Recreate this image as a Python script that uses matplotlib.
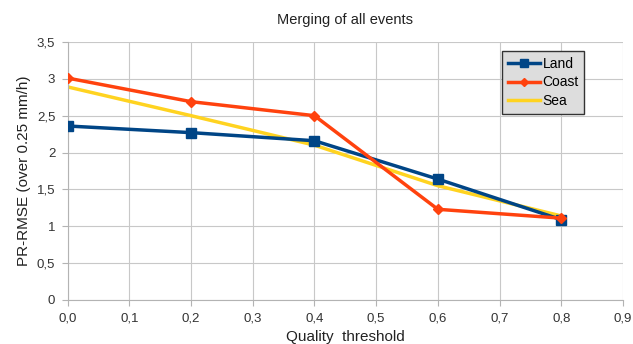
import matplotlib
matplotlib.use('Agg')
import matplotlib.pyplot as plt
from matplotlib.ticker import FuncFormatter, MultipleLocator

thresholds = [0.0, 0.2, 0.4, 0.6, 0.8]
land = [2.36, 2.27, 2.16, 1.64, 1.09]
coast = [3.01, 2.69, 2.50, 1.23, 1.11]
sea = [2.89, 2.50, 2.10, 1.55, 1.14]

plt.rcParams['font.family'] = ['Liberation Sans', 'DejaVu Sans']

fig = plt.figure(figsize=(6.33, 3.44), dpi=100)
ax = fig.add_axes([0.107, 0.128, 0.877, 0.75])

ax.plot(thresholds, land, color='#004586', lw=2.5, marker='s', ms=7, label='Land', zorder=3)
ax.plot(thresholds, coast, color='#ff420e', lw=2.5, marker='D', ms=5, label='Coast', zorder=3)
ax.plot(thresholds, sea, color='#ffd320', lw=2.5, label='Sea', zorder=2)

ax.set_xlim(0, 0.9)
ax.set_ylim(0, 3.5)
ax.xaxis.set_major_locator(MultipleLocator(0.1))
ax.yaxis.set_major_locator(MultipleLocator(0.5))
ax.xaxis.set_major_formatter(FuncFormatter(lambda v, p: f'{v:.1f}'.replace('.', ',')))
ax.yaxis.set_major_formatter(FuncFormatter(lambda v, p: f'{v:g}'.replace('.', ',')))
ax.tick_params(labelsize=9.5, colors='#333333', length=4, color='#b3b3b3', pad=5)
ax.grid(color='#c8c8c8', lw=0.8)
ax.set_axisbelow(True)
for s in ['top', 'right']:
    ax.spines[s].set_visible(False)
for s in ['left', 'bottom']:
    ax.spines[s].set_color('#b3b3b3')

ax.set_title('Merging of all events', fontsize=10.5, pad=13, color='#222222')
ax.set_xlabel('Quality  threshold', fontsize=11, labelpad=4, color='#222222')
ax.set_ylabel('PR-RMSE (over 0.25 mm/h)', fontsize=11, labelpad=4, color='#222222')

leg = ax.legend(loc='upper left', bbox_to_anchor=(0.783, 0.965), fontsize=10,
                fancybox=False, framealpha=1, handlelength=2.3, borderpad=0.4,
                labelspacing=0.35, handletextpad=0.2, markerscale=0.75,
                borderaxespad=0)
leg.get_frame().set_facecolor('#dddddd')
leg.get_frame().set_edgecolor('#333333')

fig.savefig('out.png', dpi=100)
